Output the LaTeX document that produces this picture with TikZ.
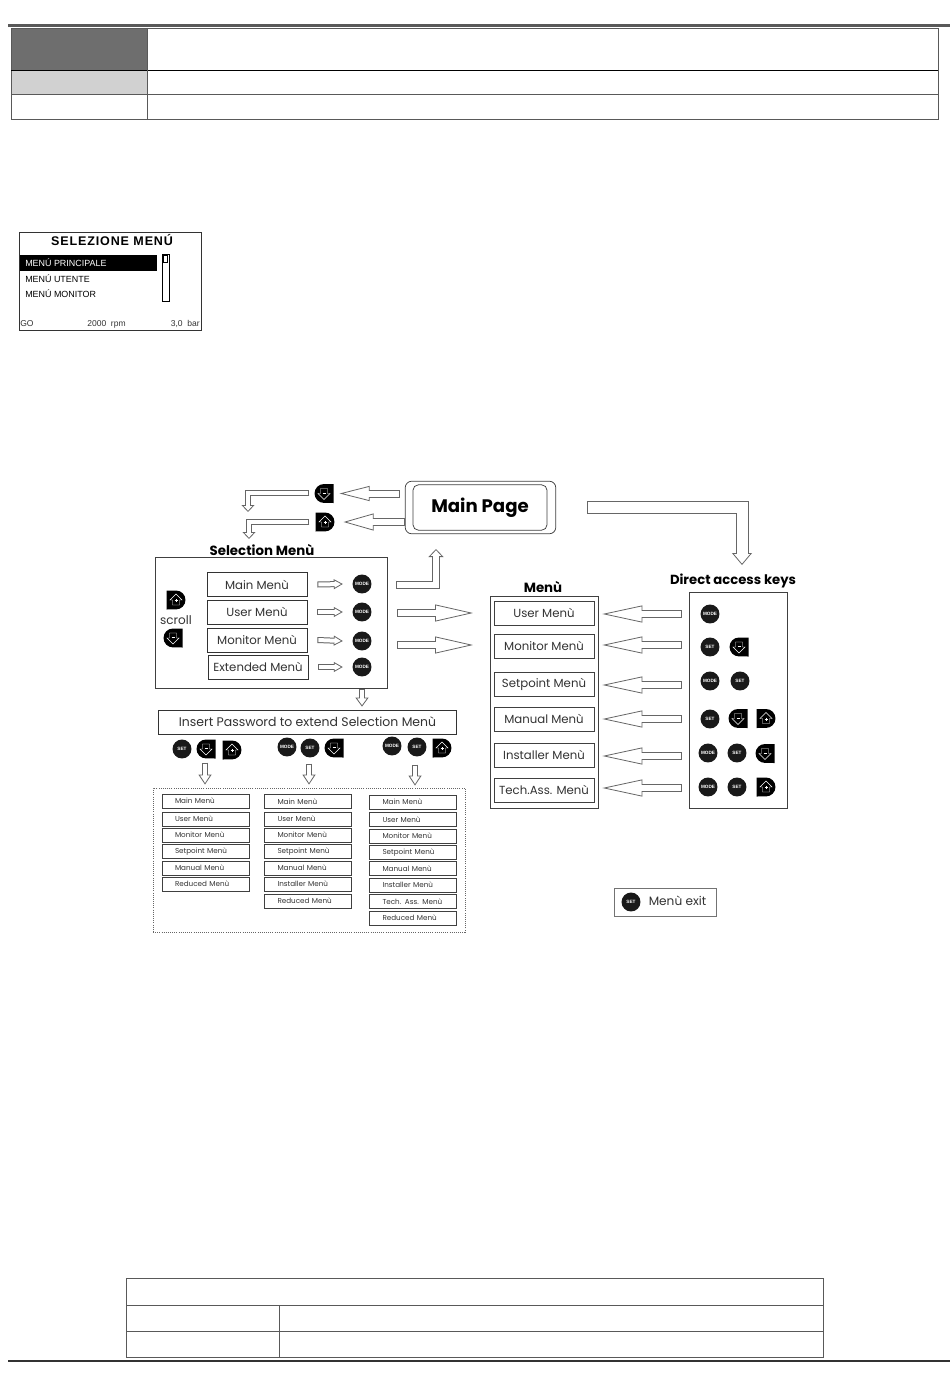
\documentclass[tikz,border=0pt]{standalone}
\usepackage{fontspec}
\setmainfont{Poppins}
\newfontfamily\lcd{Liberation Sans}
\newfontfamily\lcdtitle[LetterSpace=7]{Liberation Sans}
\usetikzlibrary{arrows.meta,calc}
\definecolor{ink}{HTML}{333333}
\definecolor{edge}{HTML}{666666}
\newcommand{\fs}[1]{\fontsize{#1}{#1}\selectfont}
\tikzset{
  selbox/.style={draw=black!80,line width=.55pt,minimum width=75pt,minimum height=18pt,inner sep=0pt,text=ink,font=\fs{8.8}},
  menubox/.style={draw=black!75,line width=.55pt,minimum width=75pt,minimum height=18pt,inner sep=0pt,text=ink,font=\fs{8.8}},
  tinybox/.style={draw=black!75,line width=.55pt,text width=65.25pt,minimum height=10.5pt,inner sep=0pt,align=left,text=ink,font=\fs{5.4},execute at begin node=\hspace*{9.75pt}},
  panel/.style={draw=black!75,line width=.55pt,inner sep=0pt},
  title/.style={inner sep=0pt,text=black,font=\fs{10}\bfseries},
  roundkey/.style={circle,fill=black!90,minimum size=14.2pt,inner sep=0pt,text=white,font=\lcd\fs{3.5}\bfseries},
  keyspot/.style={minimum size=14pt,inner sep=0pt},
  hollow/.style n args={3}{
    preaction={draw=edge,shorten <=0pt,shorten >=0pt,line width=#1*.75pt+1.5pt,arrows={-Triangle[width=#2*.75pt,length=#3*.75pt,line width=.6pt,fill=white,color=edge]}},
    draw=white,line width=#1*.75pt,shorten <=.75pt,shorten >=#3*.75pt-1.1pt},
  gridline/.style={draw=black!65,line width=.7pt},
  upkey/.pic={
    \fill[black] (0,-9.5) arc[start angle=90,end angle=-90,radius=7.1pt] -- (-9.5,9.5) -- (-9.5,-9.5) -- cycle;
    \draw[white,line width=.35pt] (0,-6) -- (6,0) -- (3.5,0) -- (3.5,5) -- (-3.5,5) -- (-3.5,0) -- (-6,0) -- cycle;
    \draw[white,line width=.35pt] (-1.5,.5) -- (1.5,.5) (0,-1) -- (0,2);
  },
  downkey/.pic={
    \fill[black] (0,-9.5) arc[start angle=90,end angle=270,radius=7.1pt] -- (9.5,9.5) -- (9.5,-9.5) -- cycle;
    \draw[white,line width=.35pt] (0,6) -- (6,0) -- (3.5,0) -- (3.5,-5) -- (-3.5,-5) -- (-3.5,0) -- (-6,0) -- cycle;
    \draw[white,line width=.35pt] (-1.5,-.5) -- (1.5,-.5);
  },
}
\newcommand{\kup}[3]{\node[keyspot] (#1) at (#2,#3) {}; \pic at (#1) {upkey};}
\newcommand{\kdn}[3]{\node[keyspot] (#1) at (#2,#3) {}; \pic at (#1) {downkey};}
\begin{document}
\begin{tikzpicture}[x=.75pt,y=-.75pt]
\useasboundingbox (0,0) rectangle (950,1387);
\fill[white] (0,0) rectangle (950,1387);

% top rule and table
\draw[draw=black!65,line width=1.6pt] (8,25.5) -- (950,25.5);
\fill[black!57] (11,28) rectangle (147,70);
\fill[black!18] (11,70) rectangle (147,94.5);
\draw[gridline] (11,28) rectangle (938,119);
\draw[black,line width=.7pt] (11,70) -- (938,70);
\draw[gridline] (11,94.5) -- (938,94.5);
\draw[gridline] (147,28) -- (147,119);

% display
\draw[black!80,line width=.5pt] (19,232) rectangle (201,330);
\node[inner sep=0pt] (scrtitle) at (112,240) {\lcdtitle\fs{9.4}\bfseries SELEZIONE MENÚ};
\fill[black] (20,255) rectangle (157,271);
\node[anchor=west,inner sep=0pt,text=white,font=\lcd\fs{6.7}] (s1) at (25,263) {MENÚ PRINCIPALE};
\node[anchor=west,inner sep=0pt,font=\lcd\fs{6.7}] (s2) at (25,278.5) {MENÚ UTENTE};
\node[anchor=west,inner sep=0pt,font=\lcd\fs{6.7}] (s3) at (25,294) {MENÚ MONITOR};
\draw[black,line width=.5pt] (162,254) rectangle (169,301);
\draw[black,line width=.5pt] (163.5,255.5) rectangle (167.5,262);
\node[anchor=west,inner sep=0pt,text=ink,font=\lcd\fs{6.4}] (s4) at (20,324) {GO};
\node[anchor=west,inner sep=0pt,text=ink,font=\lcd\fs{6.4}] (s5) at (87,324) {2000\ \ rpm};
\node[anchor=east,inner sep=0pt,text=ink,font=\lcd\fs{6.4}] (s6) at (200,324) {3,0\ \ bar};

% main page
\node[draw=black!75,line width=.55pt,rounded corners=5pt,minimum width=113pt,minimum height=39.5pt,inner sep=0pt] (mpo) at (480.5,507.5) {};
\node[draw=black!75,line width=.55pt,rounded corners=4pt,minimum width=100.5pt,minimum height=34pt,inner sep=0pt,font=\fs{13.6}\bfseries] (mp) at (480,507.5) {Main Page};

\kdn{kd}{324}{493.5}
\kup{ku}{325}{522}
\coordinate (e1) at (248,492.5);
\coordinate (e1t) at (248,512);
\coordinate (e2) at (249,521.5);
\coordinate (e2t) at (249,539);
\draw[hollow={6}{15}{30}] ($(mpo.west |- kd)+(-5,0)$) -- ($(kd.east)+(6,0)$);
\draw[hollow={6}{17}{30}] (mpo.west |- ku) -- ($(ku.east)+(9,0)$);
\draw[hollow={4}{13}{7}] ($(kd.west |- e1)+(-5,0)$) -- (e1) -- (e1t);
\draw[hollow={4}{13}{7}] ($(ku.west |- e2)+(-6,0)$) -- (e2) -- (e2t);

% selection menu
\node[title] (seltitle) at (262,550) {Selection Menù};
\node[panel,minimum width=174pt,minimum height=98.25pt] (sel) at (271,622.5) {};
\node[selbox] (b1) at (257,584.5) {Main Menù};
\node[selbox] (b2) at (257,612) {User Menù};
\node[selbox] (b3) at (257,640) {Monitor Menù};
\node[selbox] (b4) at (258,667) {Extended Menù};
\node[roundkey] (m1) at (362,584) {MODE};
\node[roundkey] (m2) at (362,612) {MODE};
\node[roundkey] (m3) at (362,641) {MODE};
\node[roundkey] (m4) at (362,667) {MODE};
\foreach \i in {1,2,3,4} \draw[hollow={4}{10}{9}] ($(b\i.east)+(10,0)$) -- ($(m\i.west)+(-9.5,0)$);
\kup{su}{176}{600}
\node[inner sep=0pt,text=ink,font=\fs{9}] (scroll) at (176,620.5) {scroll};
\kdn{sd}{173}{638}

% menu panel
\node[title] (mtitle) at (543,587) {Menù};
\node[panel,minimum width=81pt,minimum height=159pt] (mp2) at (544,702) {};
\node[menubox] (u1) at (544,613) {User Menù};
\node[menubox] (u2) at (544,646) {Monitor Menù};
\node[menubox] (u3) at (544,684) {Setpoint Menù};
\node[menubox] (u4) at (544,719) {Manual Menù};
\node[menubox] (u5) at (544,755) {Installer Menù};
\node[menubox] (u6) at (544,790) {Tech.Ass. Menù};

% direct keys panel
\node[title,font=\fs{9.9}\bfseries] (dtitle) at (733,581) {Direct access keys};
\node[panel,minimum width=73.5pt,minimum height=162pt] (dk) at (738,700) {};
\node[roundkey] (r1) at (710,614) {MODE};
\node[roundkey] (r2) at (710,647) {SET};
\kdn{r2b}{739}{647}
\node[roundkey] (r3) at (710,681) {MODE};
\node[roundkey] (r3b) at (740,681) {SET};
\node[roundkey] (r4) at (710,719) {SET};
\kdn{r4b}{738}{718.5}
\kup{r4c}{766}{718.5}
\node[roundkey] (r5) at (708,753) {MODE};
\node[roundkey] (r5b) at (737,753) {SET};
\kdn{r5c}{765}{753.5}
\node[roundkey] (r6) at (708,787) {MODE};
\node[roundkey] (r6b) at (737,787) {SET};
\kup{r6c}{766}{787}

% arrows into menu panel
\foreach \i/\y in {1/614,2/645,3/685,4/719,5/756,6/788}
  \draw[hollow={6}{17}{40}] ($(dk.west |- 0,\y)+(-7,0)$) -- ($(u\i.east |- 0,\y)+(8,0)$);
\coordinate (a1) at (436,584.5);
\coordinate (a1t) at (436,549);
\coordinate (a2) at (473,613);
\coordinate (a3) at (473,645);
\draw[hollow={6}{15}{8}] ($(sel.east |- a1)+(9,0)$) -- (a1) -- (a1t);
\draw[hollow={6}{17}{38}] ($(sel.east |- a2)+(10,0)$) -- (a2);
\draw[hollow={6}{17}{38}] ($(sel.east |- a3)+(10,0)$) -- (a3);

% main page to direct keys
\coordinate (g1) at (742,507);
\coordinate (g1t) at (742,565);
\draw[hollow={11}{20}{12}] ($(mpo.east |- g1)+(31,0)$) -- (g1) -- (g1t);

% password
\node[draw=black!80,line width=.55pt,minimum width=224pt,minimum height=18pt,inner sep=0pt,text=ink,font=\fs{9.35}] (pw) at (307.5,722) {Insert Password to extend Selection Menù};
\draw[hollow={4}{13}{9}] ($(m4 |- sel.south)+(0,1)$) -- ($(m4 |- pw.north)+(0,-3)$);

\node[roundkey] (p1) at (182,749) {SET};
\kdn{p2}{206}{749}
\kup{p3}{232}{750}
\node[roundkey] (q1) at (287,747) {MODE};
\node[roundkey] (q2) at (310,748) {SET};
\kdn{q3}{334}{748}
\node[roundkey] (t1) at (392,746) {MODE};
\node[roundkey] (t2) at (417,747) {SET};
\kup{t3}{442}{748}

% dotted frame
\node[draw=black!60,densely dotted,line width=.6pt,minimum width=234pt,minimum height=108pt,inner sep=0pt] (fr) at (309,860) {};
\draw[hollow={4}{13}{10}] ($(p2.south)+(-1,4)$) -- ($(fr.north -| p2)+(-1,-3)$);
\draw[hollow={4}{13}{10}] ($(q2.south)+(-1,6)$) -- ($(fr.north -| q2)+(-1,-3)$);
\draw[hollow={4}{13}{10}] ($(t2.south)+(-2,8)$) -- ($(fr.north -| t2)+(-2,-2)$);

\foreach \n/\y/\t in {1/801/Main Menù,2/819/User Menù,3/835/Monitor Menù,4/851.5/Setpoint Menù,5/868/Manual Menù,6/884/Reduced Menù}
  \node[tinybox] (c1\n) at (205.5,\y) {\t};
\foreach \n/\y/\t in {1/801.5/Main Menù,2/819/User Menù,3/835/Monitor Menù,4/851.5/Setpoint Menù,5/868/Manual Menù,6/884/Installer Menù,7/901/Reduced Menù}
  \node[tinybox] (c2\n) at (308,\y) {\t};
\foreach \n/\y/\t in {1/802/Main Menù,2/819.5/User Menù,3/836/Monitor Menù,4/852.5/Setpoint Menù,5/868.5/Manual Menù,6/885/Installer Menù,7/901.5/Tech. Ass. Menù,8/918/Reduced Menù}
  \node[tinybox] (c3\n) at (413,\y) {\t};

% exit legend
\node[draw=black!55,line width=.55pt,minimum width=76.5pt,minimum height=21pt,inner sep=0pt] (ex) at (665,902) {};
\node[roundkey] (exk) at (631,902) {SET};
\node[inner sep=0pt,text=ink,font=\fs{9.1}] (ext) at (677.5,901) {Menù exit};

% bottom table
\draw[gridline] (126,1278) rectangle (823,1357);
\draw[gridline] (126,1305) -- (823,1305);
\draw[gridline] (126,1331) -- (823,1331);
\draw[gridline] (279,1305) -- (279,1357);
\draw[black!80,line width=.8pt] (8,1361) -- (950,1361);
\end{tikzpicture}
\end{document}
